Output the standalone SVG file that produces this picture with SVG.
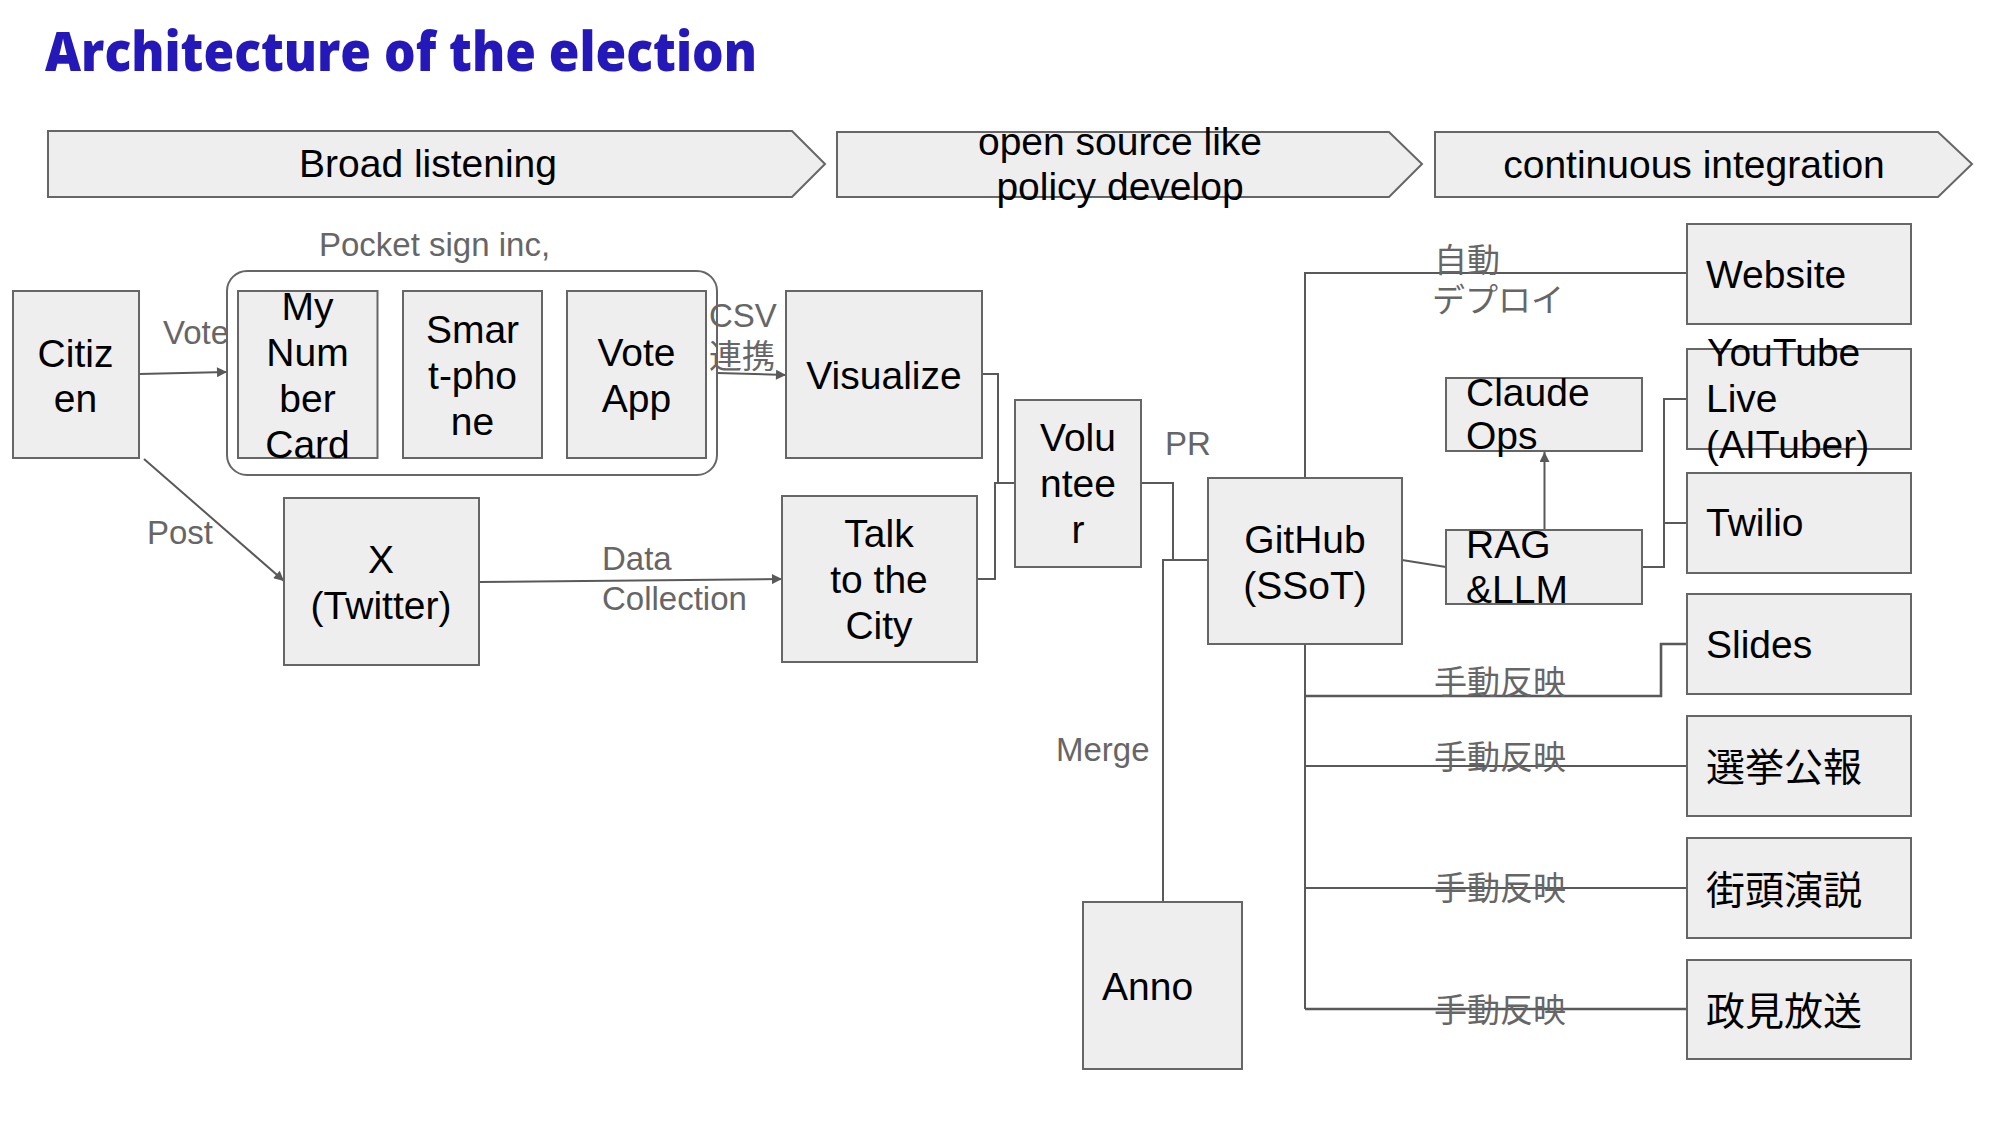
<svg xmlns="http://www.w3.org/2000/svg" width="2000" height="1125" viewBox="0 0 2000 1125">
<style>
.box{fill:#eeeeee;stroke:#666666;stroke-width:2}
.grp{fill:none;stroke:#666666;stroke-width:2}
.t{font-family:"Liberation Sans","Noto Sans CJK JP",Arial,sans-serif;font-size:39px;fill:#000}
.c{text-anchor:middle}
.lbl{font-family:"Liberation Sans","Noto Sans CJK JP",Arial,sans-serif;font-size:33px;fill:#666666}
.ln{fill:none;stroke:#595959;stroke-width:2}
.title{font-family:"Open Sans","Noto Sans",sans-serif;font-weight:800;font-size:54px;fill:#2419b8}
</style>
<defs>
<marker id="ah" viewBox="0 0 10 10" refX="10" refY="5" markerWidth="12" markerHeight="10" markerUnits="userSpaceOnUse" orient="auto">
<path d="M0,0 L10,5 L0,10 z" fill="#595959"/>
</marker>
</defs>
<rect width="2000" height="1125" fill="#ffffff"/>
<text class="title" x="45" y="71" textLength="712" lengthAdjust="spacingAndGlyphs">Architecture of the election</text>

<g id="banner-broad-listening">
<path class="box" d="M48,131 H792 L825,164 L792,197 H48 Z"/>
<text class="t c" x="428" y="177">Broad listening</text>
</g>
<g id="banner-open-source">
<path class="box" d="M837,132 H1389 L1422,164 L1389,197 H837 Z"/>
<text class="t c" x="1120" y="155">open source like</text>
<text class="t c" x="1120" y="200">policy develop</text>
</g>
<g id="banner-ci">
<path class="box" d="M1435,132 H1938 L1972,164 L1938,197 H1435 Z"/>
<text class="t c" x="1694" y="178">continuous integration</text>
</g>

<g id="connectors">
<line class="ln" x1="139" y1="374" x2="227" y2="372" marker-end="url(#ah)"/>
<line class="ln" x1="144" y1="459" x2="284" y2="581" marker-end="url(#ah)"/>
<line class="ln" x1="717" y1="373" x2="786" y2="375" marker-end="url(#ah)"/>
<line class="ln" x1="479" y1="582" x2="782" y2="579" marker-end="url(#ah)"/>
<polyline class="ln" points="982,374 998,374 998,483"/>
<polyline class="ln" points="977,579 995,579 995,483 1015,483"/>
<polyline class="ln" points="1141,483 1173,483 1173,560 1208,560"/>
<polyline class="ln" points="1163,902 1163,560 1208,560"/>
<polyline class="ln" points="1305,478 1305,273 1687,273"/>
<line class="ln" x1="1402" y1="560" x2="1446" y2="567"/>
<line class="ln" x1="1544.5" y1="530" x2="1544.5" y2="452" marker-end="url(#ah)"/>
<polyline class="ln" points="1642,567 1664,567 1664,399 1687,399"/>
<line class="ln" x1="1664" y1="523" x2="1687" y2="523"/>
<polyline class="ln" points="1305,644 1305,1009"/>
<polyline class="ln" style="stroke-width:2.6" points="1305,696 1661,696 1661,644 1687,644"/>
<line class="ln" x1="1305" y1="766" x2="1687" y2="766"/>
<line class="ln" x1="1305" y1="888" x2="1687" y2="888"/>
<line class="ln" style="stroke-width:2.6" x1="1305" y1="1009" x2="1687" y2="1009"/>
<text class="lbl" x="163" y="344">Vote</text>
<text class="lbl" x="147" y="544">Post</text>
<text class="lbl" x="709" y="327">CSV</text>
<text class="lbl" x="709" y="368">連携</text>
<text class="lbl" x="602" y="570">Data</text>
<text class="lbl" x="602" y="610">Collection</text>
<text class="lbl" x="1165" y="455">PR</text>
<text class="lbl" x="1056" y="761">Merge</text>
<text class="lbl" x="1434" y="272">自動</text>
<text class="lbl" x="1432" y="312">デプロイ</text>
<text class="lbl" x="1434" y="694">手動反映</text>
<text class="lbl" x="1434" y="769">手動反映</text>
<text class="lbl" x="1434" y="900">手動反映</text>
<text class="lbl" x="1434" y="1022">手動反映</text>
</g>

<g id="citizen">
<rect class="box" x="13" y="291" width="126" height="167"/>
<text class="t c" x="75.5" y="367">Citiz</text>
<text class="t c" x="75.5" y="412">en</text>
</g>
<g id="pocket-sign">
<rect class="grp" x="227" y="271" width="490" height="204" rx="20" ry="20"/>
<text class="lbl c" x="434.5" y="256">Pocket sign inc,</text>
</g>
<g id="my-number-card">
<rect class="box" x="238" y="291" width="139.5" height="167"/>
<text class="t c" x="307.5" y="320">My</text>
<text class="t c" x="307.5" y="366">Num</text>
<text class="t c" x="307.5" y="412">ber</text>
<text class="t c" x="307.5" y="458">Card</text>
</g>
<g id="smartphone">
<rect class="box" x="403" y="291" width="139" height="167"/>
<text class="t c" x="472.5" y="343">Smar</text>
<text class="t c" x="472.5" y="389">t-pho</text>
<text class="t c" x="472.5" y="435">ne</text>
</g>
<g id="vote-app">
<rect class="box" x="567" y="291" width="139" height="167"/>
<text class="t c" x="636.5" y="366">Vote</text>
<text class="t c" x="636.5" y="412">App</text>
</g>
<g id="visualize">
<rect class="box" x="786" y="291" width="196" height="167"/>
<text class="t c" x="884" y="389">Visualize</text>
</g>
<g id="x-twitter">
<rect class="box" x="284" y="498" width="195" height="167"/>
<text class="t c" x="381" y="573">X</text>
<text class="t c" x="381" y="619">(Twitter)</text>
</g>
<g id="talk-to-the-city">
<rect class="box" x="782" y="496" width="195" height="166"/>
<text class="t c" x="879" y="547">Talk</text>
<text class="t c" x="879" y="593">to the</text>
<text class="t c" x="879" y="639">City</text>
</g>
<g id="volunteer">
<rect class="box" x="1015" y="400" width="126" height="167"/>
<text class="t c" x="1078" y="451">Volu</text>
<text class="t c" x="1078" y="497">ntee</text>
<text class="t c" x="1078" y="543">r</text>
</g>
<g id="github">
<rect class="box" x="1208" y="478" width="194" height="166"/>
<text class="t c" x="1305" y="553">GitHub</text>
<text class="t c" x="1305" y="599">(SSoT)</text>
</g>
<g id="anno">
<rect class="box" x="1083" y="902" width="159" height="167"/>
<text class="t" x="1102" y="1000">Anno</text>
</g>
<g id="claude-ops">
<rect class="box" x="1446" y="378" width="196" height="73"/>
<text class="t" x="1466" y="406">Claude</text>
<text class="t" x="1466" y="449">Ops</text>
</g>
<g id="rag-llm">
<rect class="box" x="1446" y="530" width="196" height="74"/>
<text class="t" x="1466" y="558">RAG</text>
<text class="t" x="1466" y="603">&amp;LLM</text>
</g>
<g id="website">
<rect class="box" x="1687" y="224" width="224" height="100"/>
<text class="t" x="1706" y="288">Website</text>
</g>
<g id="youtube-live">
<rect class="box" x="1687" y="349" width="224" height="100"/>
<text class="t" x="1707" y="366">YouTube</text>
<text class="t" x="1706" y="412">Live</text>
<text class="t" x="1706" y="458">(AITuber)</text>
</g>
<g id="twilio">
<rect class="box" x="1687" y="473" width="224" height="100"/>
<text class="t" x="1706" y="536">Twilio</text>
</g>
<g id="slides">
<rect class="box" x="1687" y="594" width="224" height="100"/>
<text class="t" x="1706" y="658">Slides</text>
</g>
<g id="senkyo-koho">
<rect class="box" x="1687" y="716" width="224" height="100"/>
<text class="t" x="1706" y="781">選挙公報</text>
</g>
<g id="gaito-enzetsu">
<rect class="box" x="1687" y="838" width="224" height="100"/>
<text class="t" x="1706" y="904">街頭演説</text>
</g>
<g id="seiken-hoso">
<rect class="box" x="1687" y="960" width="224" height="99"/>
<text class="t" x="1706" y="1025">政見放送</text>
</g>
</svg>
